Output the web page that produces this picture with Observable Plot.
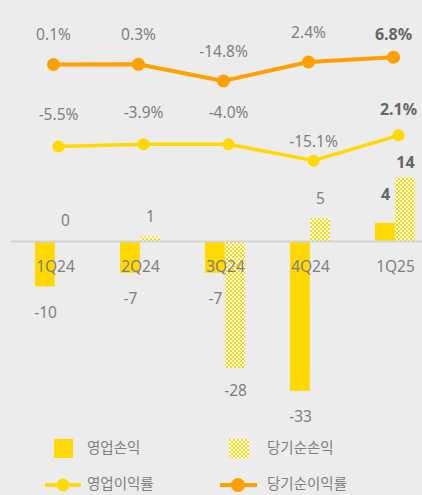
<!DOCTYPE html>
<html>
<head>
<meta charset="utf-8">
<script src="https://cdn.jsdelivr.net/npm/d3@7"></script>
<script src="https://cdn.jsdelivr.net/npm/@observablehq/plot@0.6"></script>
<style>
  html, body { margin: 0; padding: 0; background: #ececec; }
  body { width: 422px; height: 495px; overflow: hidden; position: relative;
         font-family: "Noto Sans", "Noto Sans CJK KR", sans-serif; }
  #chart { position: relative; width: 422px; height: 495px; }
  #chart > svg, #chart > figure { position: absolute; left: 0; top: 0; margin: 0; }
  .lg { position: absolute; }
  .lg-text { position: absolute; font-size: 14.5px; color: #7f7f7f;
             font-family: "Noto Sans CJK KR", sans-serif; line-height: 1; white-space: nowrap; }
</style>
</head>
<body>
<div id="chart"></div>
<script>
// ---- data ----
const quarters = ["1Q24", "2Q24", "3Q24", "4Q24", "1Q25"];
const operatingProfit = [-10, -7, -7, -33, 4];          // 영업손익
const netProfit = [0, 1, -28, 5, 14];                   // 당기순손익
const operatingMargin = [-5.5, -3.9, -4.0, -15.1, 2.1]; // 영업이익률 (%)
const netMargin = [0.1, 0.3, -14.8, 2.4, 6.8];          // 당기순이익률 (%)
const legendLabels = ["영업손익", "당기순손익", "영업이익률", "당기순이익률"];

const YELLOW = "#ffd900";
const ORANGE = "#ffa000";
const TEXT = "#7f7f7f";
const BOLD = "#666666";
const FONT = "Noto Sans, Noto Sans CJK KR, sans-serif";
const FS = 15.5;

const rows = quarters.map((q, i) => ({
  q, op: operatingProfit[i], net: netProfit[i],
  om: operatingMargin[i], nm: netMargin[i], last: i === quarters.length - 1
}));
const minOmQ = rows.reduce((a, b) => (b.om < a.om ? b : a)).q;

const fmtPct = v => v.toFixed(1) + "%";
const container = document.getElementById("chart");

// ---- bars ----
const bars = Plot.plot({
  width: 422, height: 425,
  marginLeft: 34, marginRight: 7, marginTop: 0, marginBottom: 0,
  style: { background: "transparent", fontFamily: FONT, overflow: "visible" },
  x: { domain: quarters, paddingInner: 0.53, paddingOuter: 0, axis: null },
  y: { domain: [-40.55, 53.1], axis: null },
  marks: [
    Plot.barY(rows, { x: "q", y: "op", fill: YELLOW, insetRight: 20.2 }),
    Plot.barY(rows, { x: "q", y: "net", fill: "url(#checker)", insetLeft: 20.2 }),
    Plot.ruleY([0], { stroke: "#d3d3d3", strokeWidth: 2, insetLeft: -23, insetRight: -7 }),
    // quarter labels
    Plot.text(rows, { x: "q", y: () => 0, text: "q", dy: 26, fill: TEXT, fontSize: FS }),
    // operating profit labels
    Plot.text(rows.filter(d => !d.last && d.op < 0), { x: "q", y: "op", text: d => String(d.op),
      dx: -10, dy: 26, fill: TEXT, fontSize: FS }),
    Plot.text(rows.filter(d => d.last), { x: "q", y: "op", text: d => String(d.op),
      dx: -10, dy: -28, fill: BOLD, fontSize: 16, fontWeight: "bold" }),
    // net profit labels
    Plot.text(rows.filter(d => !d.last && d.net < 0), { x: "q", y: "net", text: d => String(d.net),
      dx: 10, dy: 22, fill: TEXT, fontSize: FS }),
    Plot.text(rows.filter(d => !d.last && d.net >= 0), { x: "q", y: "net", text: d => String(d.net),
      dx: 10, dy: -20, fill: TEXT, fontSize: FS }),
    Plot.text(rows.filter(d => d.last), { x: "q", y: "net", text: d => String(d.net),
      dx: 10, dy: -15, fill: BOLD, fontSize: 16, fontWeight: "bold" })
  ]
});
// checker pattern for 당기순손익
const ns = "http://www.w3.org/2000/svg";
const defs = document.createElementNS(ns, "defs");
defs.innerHTML = `<pattern id="checker" patternUnits="userSpaceOnUse" width="4" height="4">
  <rect width="4" height="4" fill="#ffffff"/>
  <rect x="0" y="0" width="2" height="2" fill="${YELLOW}"/>
  <rect x="2" y="2" width="2" height="2" fill="${YELLOW}"/></pattern>`;
bars.insertBefore(defs, bars.firstChild);
container.appendChild(bars);

// ---- 당기순이익률 line (orange) ----
const orange = Plot.plot({
  width: 422, height: 200,
  marginLeft: 53, marginRight: 29, marginTop: 0, marginBottom: 0,
  style: { background: "transparent", fontFamily: FONT, overflow: "visible" },
  x: { type: "point", domain: quarters, padding: 0, axis: null },
  y: { domain: [-123.5, 58.3], axis: null },
  marks: [
    Plot.line(rows, { x: "q", y: "nm", stroke: ORANGE, strokeWidth: 4 }),
    Plot.dot(rows, { x: "q", y: "nm", r: 6.5, fill: ORANGE }),
    Plot.text(rows.filter(d => !d.last), { x: "q", y: "nm", text: d => fmtPct(d.nm),
      dy: -29, fill: TEXT, fontSize: FS }),
    Plot.text(rows.filter(d => d.last), { x: "q", y: "nm", text: d => fmtPct(d.nm),
      dy: -22, fill: BOLD, fontSize: 16, fontWeight: "bold" })
  ]
});
container.appendChild(orange);

// ---- 영업이익률 line (yellow) ----
const yellow = Plot.plot({
  width: 422, height: 200,
  marginLeft: 57, marginRight: 24, marginTop: 0, marginBottom: 0,
  style: { background: "transparent", fontFamily: FONT, overflow: "visible" },
  x: { type: "point", domain: quarters, padding: 0, axis: null },
  y: { domain: [-42.2, 93.8], axis: null },
  marks: [
    Plot.line(rows, { x: "q", y: "om", stroke: YELLOW, strokeWidth: 3.5 }),
    Plot.dot(rows, { x: "q", y: "om", r: 6, fill: YELLOW }),
    Plot.text(rows.filter(d => !d.last && d.q !== minOmQ), { x: "q", y: "om", text: d => fmtPct(d.om),
      dy: -31, fill: TEXT, fontSize: FS }),
    Plot.text(rows.filter(d => d.q === minOmQ), { x: "q", y: "om", text: d => fmtPct(d.om),
      dy: -19, fill: TEXT, fontSize: FS }),
    Plot.text(rows.filter(d => d.last), { x: "q", y: "om", text: d => fmtPct(d.om),
      dy: -25, fill: BOLD, fontSize: 16, fontWeight: "bold" })
  ]
});
container.appendChild(yellow);

// ---- legend ----
function addLegend(html, left, top) {
  const el = document.createElement("div");
  el.className = "lg";
  el.style.left = left + "px";
  el.style.top = top + "px";
  el.innerHTML = html;
  container.appendChild(el);
}
function addLegendText(text, left, cy) {
  const el = document.createElement("div");
  el.className = "lg-text";
  el.textContent = text;
  el.style.left = left + "px";
  el.style.top = (cy - 8) + "px";
  container.appendChild(el);
}
addLegend(`<svg width="20" height="19"><rect width="19" height="19" fill="${YELLOW}"/></svg>`, 54, 439);
addLegendText(legendLabels[0], 87, 448);
addLegend(`<svg width="20" height="19"><defs><pattern id="checker2" patternUnits="userSpaceOnUse" width="4" height="4">
  <rect width="4" height="4" fill="#ffffff"/><rect width="2" height="2" fill="${YELLOW}"/>
  <rect x="2" y="2" width="2" height="2" fill="${YELLOW}"/></pattern></defs>
  <rect width="20" height="19" fill="url(#checker2)"/></svg>`, 229, 439);
addLegendText(legendLabels[1], 267, 448);
addLegend(`<svg width="38" height="16"><line x1="0" x2="36" y1="8" y2="8" stroke="${YELLOW}" stroke-width="3.5"/>
  <circle cx="18" cy="8" r="6.5" fill="${YELLOW}"/></svg>`, 45, 476);
addLegendText(legendLabels[2], 87, 484);
addLegend(`<svg width="38" height="16"><line x1="0" x2="37" y1="8" y2="8" stroke="${ORANGE}" stroke-width="4"/>
  <circle cx="18" cy="8" r="7" fill="${ORANGE}"/></svg>`, 220, 476);
addLegendText(legendLabels[3], 267, 484);
</script>
</body>
</html>
